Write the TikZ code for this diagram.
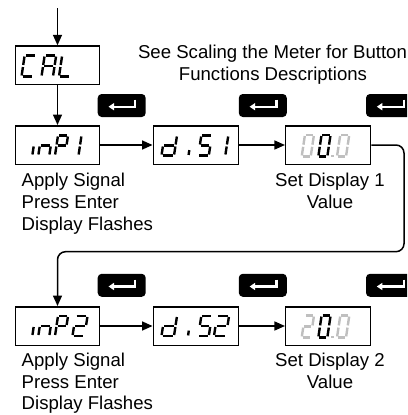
\documentclass[tikz,border=0pt]{standalone}
\usepackage{fontspec}
\setmainfont{Liberation Sans}
\usetikzlibrary{arrows.meta}
\tikzset{
  disp/.style={draw, line width=1.5pt, minimum width=85pt, minimum height=38.5pt, inner sep=0pt},
  dispL/.style={disp, minimum width=83.6pt},
  btn/.style={fill=black, rounded corners=4pt, minimum width=48pt, minimum height=23pt, inner sep=0pt},
  lbl/.style={font=\fontsize{18.6}{21.7}\selectfont, inner sep=0pt},
  flow/.style={line width=1.5pt, -{Triangle[length=10.5pt,width=9pt]}},
  enterline/.style={white, line width=2.2pt, -{Triangle[length=5.5pt,width=7pt]}},
  segline/.style={line width=2.4pt},
  dimseg/.style={color=black!25},
  darkseg/.style={color=black}
}
\newcommand\segdrawa{\draw[segline] (0.1,1)--(0.9,1);}
\newcommand\segdrawb{\draw[segline] (1,0.95)--(1,0.55);}
\newcommand\segdrawc{\draw[segline] (1,0.45)--(1,0.05);}
\newcommand\segdrawd{\draw[segline] (0.1,0)--(0.9,0);}
\newcommand\segdrawe{\draw[segline] (0,0.45)--(0,0.05);}
\newcommand\segdrawf{\draw[segline] (0,0.95)--(0,0.55);}
\newcommand\segdrawg{\draw[segline] (0.1,0.5)--(0.9,0.5);}
\newcommand\segdrawh{\draw[segline] (0,0.27)--(0,0.03);}
\newcommand\segdrawp{\fill (0,0) +(-1.2pt,-1.2pt) rectangle +(1.2pt,1.2pt);}
% x, y of bottom-left, width, height, style, segments
\newcommand\sevseg[6]{%
  \begin{scope}[shift={(#1,#2)},x={(#3pt,0pt)},y={(0.15*#4pt,#4pt)},#5]
    \foreach \s in {#6}{\csname segdraw\s\endcsname}
  \end{scope}}
\newcommand\enterglyph[1]{%
  \draw[enterline] ([shift={(13.6,-5.8)}]#1.center) -- ([shift={(13.6,1.2)}]#1.center) -- ([shift={(-13.2,1.2)}]#1.center);}
\begin{document}
\begin{tikzpicture}[x=1pt,y=-1pt]
\useasboundingbox (0,0) rectangle (407,415);
\clip (0,0) rectangle (407,415);

% display boxes
\node[dispL] (cal)  at (57.5,65.3) {};
\node[dispL] (inp1) at (57.5,145) {};
\node[disp]  (dis1) at (195.8,145) {};
\node[disp]  (val1) at (328.2,145) {};
\node[dispL] (inp2) at (57.5,326) {};
\node[disp]  (dis2) at (195.8,326) {};
\node[disp]  (val2) at (328.2,326) {};

% enter buttons
\node[btn] (b1) at (121.7,105.5) {};
\node[btn] (b2) at (262.8,105.5) {};
\node[btn] (b3) at (390,105.5) {};
\node[btn] (b4) at (121.7,285.3) {};
\node[btn] (b5) at (262.8,285.3) {};
\node[btn] (b6) at (390,285.3) {};
\enterglyph{b1}\enterglyph{b2}\enterglyph{b3}
\enterglyph{b4}\enterglyph{b5}\enterglyph{b6}

% connectors
\coordinate (start) at (57.5,8);
\coordinate (turn) at (404,251.7);
\draw[flow] (start) -- (cal.north);
\draw[flow] (cal.south) -- (inp1.north);
\draw[flow] (inp1.east) -- (dis1.west);
\draw[flow] (dis1.east) -- (val1.west);
\draw[flow, rounded corners=8pt] (val1.east) -| (turn) -| (inp2.north);
\draw[flow] (inp2.east) -- (dis2.west);
\draw[flow] (dis2.east) -- (val2.west);

% seven-segment texts
% CAL
\sevseg{21.5}{76.5}{12}{21}{darkseg}{a,d,e,f}
\sevseg{41.5}{76.5}{11.5}{21}{darkseg}{a,b,c,e,f,g}
\sevseg{59}{76.5}{11}{21}{darkseg}{d,e,f}
% inP1
\sevseg{32.3}{155.5}{10}{20}{darkseg}{e}
\sevseg{38.3}{155.5}{11}{20}{darkseg}{c,e,g}
\sevseg{55}{155.5}{10}{20}{darkseg}{a,b,e,f,g}
\sevseg{68.5}{155.5}{10}{20}{darkseg}{b,c}
% dIS1
\sevseg{161.5}{155.5}{12.5}{20}{darkseg}{b,c,d,e,g}
\sevseg{188.5}{155.5}{10}{20}{darkseg}{h}
\sevseg{198.3}{155.5}{10.5}{20}{darkseg}{a,c,d,f,g}
\sevseg{214.8}{155.5}{10.5}{20}{darkseg}{b,c}
% 00.0
\sevseg{301.7}{156.5}{9}{21.5}{dimseg}{a,b,c,d,e,f}
\sevseg{318.3}{156.5}{9}{21.5}{darkseg}{a,b,c,d,e,f}
\sevseg{332.3}{155.8}{9}{21.5}{dimseg}{p}
\sevseg{337}{156.5}{9}{21.5}{dimseg}{a,b,c,d,e,f}
% inP2
\sevseg{32.3}{336}{10}{20}{darkseg}{e}
\sevseg{38.3}{336}{11}{20}{darkseg}{c,e,g}
\sevseg{55}{336}{10}{20}{darkseg}{a,b,e,f,g}
\sevseg{72.5}{336}{12}{20}{darkseg}{a,b,d,e,g}
% dIS2
\sevseg{161.5}{336}{12.5}{20}{darkseg}{b,c,d,e,g}
\sevseg{188}{336}{10}{20}{darkseg}{h}
\sevseg{198.3}{336}{10.5}{20}{darkseg}{a,c,d,f,g}
\sevseg{214}{336}{12}{20}{darkseg}{a,b,d,e,g}
% 20.0
\sevseg{301.7}{337.5}{9}{22}{dimseg}{a,b,d,e,g}
\sevseg{318.3}{337.5}{9}{22}{darkseg}{a,b,c,d,e,f}
\sevseg{332.3}{336.8}{9}{22}{dimseg}{p}
\sevseg{337}{337.5}{9}{22}{dimseg}{a,b,c,d,e,f}

% labels
\node[lbl, anchor=base] (see1) at (272.5,58.3) {See Scaling the Meter for Button};
\node[lbl, anchor=base] (see2) at (273,80) {Functions Descriptions};
\node[lbl, anchor=base west] (l1a) at (21.5,186.7) {Apply Signal};
\node[lbl, anchor=base west] (l1b) at (21.5,208.3) {Press Enter};
\node[lbl, anchor=base west] (l1c) at (21.5,230) {Display Flashes};
\node[lbl, anchor=base] (r1a) at (330,186.7) {Set Display 1};
\node[lbl, anchor=base] (r1b) at (330,208.3) {Value};
\node[lbl, anchor=base west] (l2a) at (21.5,366.7) {Apply Signal};
\node[lbl, anchor=base west] (l2b) at (21.5,388.3) {Press Enter};
\node[lbl, anchor=base west] (l2c) at (21.5,409.5) {Display Flashes};
\node[lbl, anchor=base] (r2a) at (330,366.7) {Set Display 2};
\node[lbl, anchor=base] (r2b) at (330,388.3) {Value};
\end{tikzpicture}
\end{document}
